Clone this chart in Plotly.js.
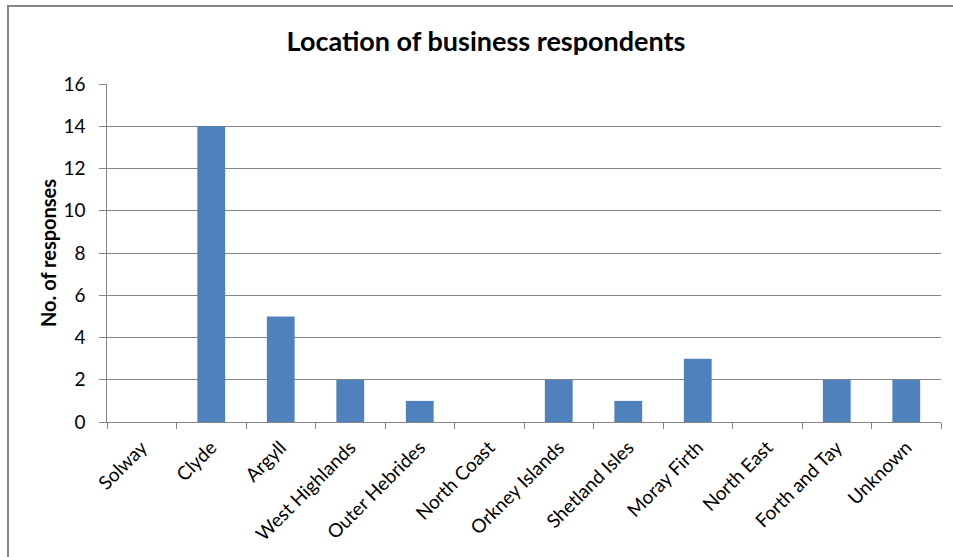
<!DOCTYPE html>
<html>
<head>
<meta charset="utf-8">
<script src="https://cdn.plot.ly/plotly-3.0.1.min.js"></script>
<style>
html,body{margin:0;padding:0;background:#fff;overflow:hidden;}
#wrap{position:relative;width:953px;height:557px;}
#chart{position:absolute;left:0;top:0;width:953px;height:557px;}
#frame{position:absolute;left:7px;top:5px;width:1000px;height:600px;border-top:2px solid #868686;border-left:2px solid #868686;pointer-events:none;}
</style>
</head>
<body>
<div id="wrap"><div id="chart"></div><div id="frame"></div></div>
<script>
const categories = ["Solway","Clyde","Argyll","West Highlands","Outer Hebrides","North Coast","Orkney Islands","Shetland Isles","Moray Firth","North East","Forth and Tay","Unknown"];
const responses = [0,14,5,2,1,0,2,1,3,0,2,2];
const yTicks = [0,2,4,6,8,10,12,14,16];
const yTickLabels = ["0","2","4","6","8","10","12","14","16"];

const font = "Lato, 'Open Sans', sans-serif";
Plotly.newPlot('chart', [{
  type: 'bar',
  x: categories,
  y: responses,
  marker: {color: '#4F81BD', line: {width: 0}},
  hoverinfo: 'x+y'
}], {
  width: 953, height: 557,
  margin: {l: 107, r: 12, t: 84, b: 135},
  paper_bgcolor: 'rgba(0,0,0,0)',
  plot_bgcolor: '#fff',
  bargap: 0.6,
  showlegend: false,
  title: {text: '<b>Location of business respondents</b>', font: {family: font, size: 27, color: '#000'}, x: 0.51, xanchor: 'center', y: 0.925, yanchor: 'middle'},
  font: {family: font, size: 19, color: '#000'},
  xaxis: {
    type: 'category',
    tickangle: -45,
    tickson: 'boundaries',
    ticks: 'outside', ticklen: 6, tickcolor: '#868686',
    ticklabelstandoff: 6,
    showline: true, linecolor: '#868686', linewidth: 1,
    showgrid: false,
    tickfont: {family: font, size: 19, color: '#000'}
  },
  yaxis: {
    range: [0, 16],
    tickvals: yTicks,
    ticktext: yTickLabels.map(t => t + '\u00a0\u00a0'),
    ticks: 'outside', ticklen: 7, tickcolor: '#868686',
    showline: true, linecolor: '#868686', linewidth: 1,
    gridcolor: '#868686', gridwidth: 1,
    zeroline: false,
    tickfont: {family: font, size: 19, color: '#000'},
    title: {text: '<b>No. of responses</b>', font: {family: font, size: 20, color: '#000'}, standoff: 1}
  }
}, {displayModeBar: false, staticPlot: true});
</script>
</body>
</html>
